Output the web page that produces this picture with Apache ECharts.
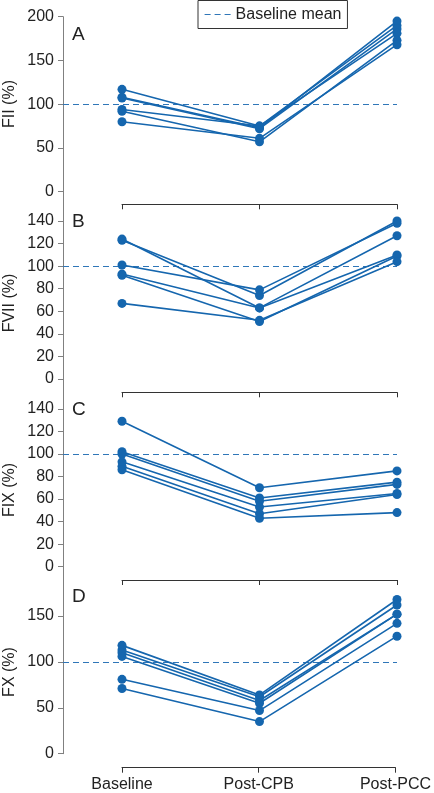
<!DOCTYPE html>
<html><head><meta charset="utf-8">
<script src="https://cdn.jsdelivr.net/npm/echarts@6/dist/echarts.min.js"></script>
<style>html,body{margin:0;padding:0;background:#fff}#c{width:434px;height:793px}</style>
</head><body><div id="c"></div>
<script>
// ---------- data ----------
const categories = ['Baseline', 'Post-CPB', 'Post-PCC'];
const baselineMean = 100;
const legendLabel = 'Baseline mean';

// Panel A: FII (%) — one entry per subject
const fiiBaseline = [117, 108, 107, 94, 92, 80];
const fiiPostCPB  = [75, 73, 72, 75, 57, 61];
const fiiPostPCC  = [190, 195, 186, 181, 173, 168];
const fiiTicks    = [0, 50, 100, 150, 200];

// Panel B: FVII (%)
const fviiBaseline = [123, 124, 101, 93, 92, 67];
const fviiPostCPB  = [74, 63, 79, 63, 51, 52];
const fviiPostPCC  = [140, 127, 138, 110, 109, 104];
const fviiTicks    = [0, 20, 40, 60, 80, 100, 120, 140];

// Panel C: FIX (%)
const fixBaseline = [129, 102, 100, 93, 89, 86];
const fixPostCPB  = [70, 61, 58, 53, 47, 43];
const fixPostPCC  = [85, 75, 73, 65, 64, 48];
const fixTicks    = [0, 20, 40, 60, 80, 100, 120, 140];

// Panel D: FX (%)
const fxBaseline = [118, 113, 110, 106, 81, 71];
const fxPostCPB  = [64, 62, 58, 55, 47, 35];
const fxPostPCC  = [168, 162, 152, 152, 142, 128];
const fxTicks    = [0, 50, 100, 150];

const panelLetters = ['A', 'B', 'C', 'D'];
const axisNames = ['FII (%)', 'FVII (%)', 'FIX (%)', 'FX (%)'];

// ---------- layout / style ----------
const FONT = '"Liberation Sans", Arial, Helvetica, sans-serif';
const BLUE = '#1566ae';
const DASH_BLUE = '#2f76b8';
const panelData = [
  [fiiBaseline, fiiPostCPB, fiiPostPCC, fiiTicks],
  [fviiBaseline, fviiPostCPB, fviiPostPCC, fviiTicks],
  [fixBaseline, fixPostCPB, fixPostPCC, fixTicks],
  [fxBaseline, fxPostCPB, fxPostPCC, fxTicks]
];
const layout = [
  {top: 16.7,  height: 175,   max: 200,   step: 50, bracket: 204.3, letterY: 36,  nameY: 104},
  {top: 191.7, height: 187.3, max: 166,   step: 20, bracket: 392.3, letterY: 223, nameY: 303},
  {top: 379,   height: 187.7, max: 166.5, step: 20, bracket: 580,   letterY: 411, nameY: 490},
  {top: 566.7, height: 187,   max: 203.7, step: 50, bracket: 767.7, letterY: 598, nameY: 672}
];
const X0 = 122, X2 = 397, YAX = 63;
const catStep = (X2 - X0) / (categories.length - 1);
const xMin = -(X0 - YAX) / catStep;

const grid = [], xAxis = [], yAxis = [], series = [], graphic = [];

layout.forEach((L, p) => {
  const [b, c, d, ticks] = panelData[p];
  // data grid
  grid.push({left: YAX, width: X2 - YAX, top: L.top, height: L.height});
  const gi = grid.length - 1;
  xAxis.push({gridIndex: gi, type: 'value', min: xMin, max: categories.length - 1, show: false,
    axisLine: {onZero: false}});
  yAxis.push({
    gridIndex: gi, type: 'value', min: 0, max: L.max, interval: L.step, position: 'left',
    axisLine: {show: true, onZero: false, lineStyle: {color: '#808080', width: 1}},
    axisTick: {show: true, length: 5, customValues: ticks, lineStyle: {color: '#808080'}},
    axisLabel: {customValues: ticks, margin: 9, fontSize: 16, color: '#222', fontFamily: FONT},
    splitLine: {show: false}
  });
  const xi = xAxis.length - 1, yi = yAxis.length - 1;
  b.forEach((_, s) => {
    const vals = [b[s], c[s], d[s]];
    const ser = {
      type: 'line', xAxisIndex: xi, yAxisIndex: yi, clip: false,
      data: categories.map((cat, i) => [i, vals[i]]),
      symbol: 'circle', symbolSize: 9, showSymbol: true,
      lineStyle: {color: BLUE, width: 1.6},
      itemStyle: {color: BLUE},
      emphasis: {disabled: true}, z: 3
    };
    if (s === 0) {
      ser.markLine = {
        silent: true, symbol: 'none', label: {show: false},
        lineStyle: {color: DASH_BLUE, type: [6, 4], width: 1.2},
        data: [{yAxis: baselineMean}], z: 2
      };
    }
    series.push(ser);
  });
  if (p === 0) {
    series.push({
      name: legendLabel, type: 'line', xAxisIndex: xi, yAxisIndex: yi, data: [],
      symbol: 'none', lineStyle: {color: DASH_BLUE, type: [6, 4], width: 1.2},
      itemStyle: {color: DASH_BLUE}
    });
  }
  // bracket (category) axis below each panel
  grid.push({left: X0, width: X2 - X0, top: L.bracket - 10, height: 10});
  const bi = grid.length - 1;
  xAxis.push({
    gridIndex: bi, type: 'category', data: categories, boundaryGap: false, position: 'bottom',
    axisLine: {show: true, onZero: false, lineStyle: {color: '#333', width: 1}},
    axisTick: {show: true, length: 5, alignWithLabel: true, lineStyle: {color: '#333'}},
    axisLabel: {show: p === layout.length - 1, margin: 9, fontSize: 16, color: '#222', fontFamily: FONT, interval: 0},
    splitLine: {show: false}
  });
  yAxis.push({gridIndex: bi, type: 'value', show: false, axisLine: {show: false, onZero: false}});
  series.push({type: 'line', xAxisIndex: xAxis.length - 1, yAxisIndex: yAxis.length - 1, data: [], silent: true});

  graphic.push({
    type: 'text', left: 72, top: L.letterY - 11,
    style: {text: panelLetters[p], fontSize: 19, fill: '#222', fontFamily: FONT}
  });
  graphic.push({
    type: 'text', x: 10, y: L.nameY, rotation: Math.PI / 2,
    style: {text: axisNames[p], fontSize: 16, fill: '#222', fontFamily: FONT, align: 'center', verticalAlign: 'middle'}
  });
});

const chart = echarts.init(document.getElementById('c'), null, {renderer: 'canvas'});
chart.setOption({
  animation: false,
  backgroundColor: '#fff',
  textStyle: {fontFamily: FONT},
  legend: {
    data: [legendLabel], left: 198, top: 0.5, selectedMode: false,
    padding: [6, 6], itemWidth: 26, itemHeight: 14, itemGap: 5,
    borderColor: '#333', borderWidth: 1,
    itemStyle: {opacity: 0},
    lineStyle: {color: DASH_BLUE, type: [6, 4], width: 1.2},
    textStyle: {fontSize: 16, color: '#222', fontFamily: FONT}
  },
  grid, xAxis, yAxis, series, graphic
});
</script>
</body></html>
